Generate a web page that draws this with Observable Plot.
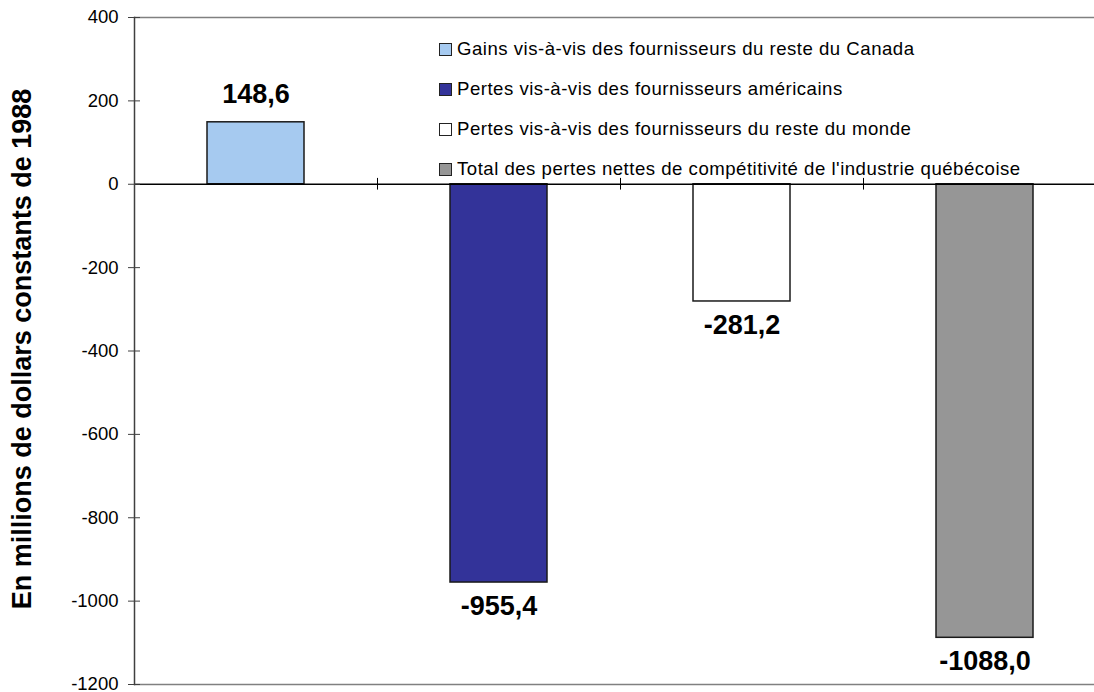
<!DOCTYPE html>
<html>
<head>
<meta charset="utf-8">
<script src="https://cdn.jsdelivr.net/npm/d3@7"></script>
<script src="https://cdn.jsdelivr.net/npm/@observablehq/plot@0.6"></script>
<style>
  html, body { margin: 0; padding: 0; background: #fff; overflow: hidden; }
  #wrap { position: relative; width: 1094px; height: 692px; font-family: "Liberation Sans", Arial, sans-serif; }
  #legend { position: absolute; left: 439px; top: 38px; font-size: 18.6px; letter-spacing: 0.5px; color: #000; }
  .row { display: flex; align-items: center; height: 22px; margin-bottom: 18px; white-space: nowrap; }
  .sw { width: 11px; height: 11px; border: 1px solid #222; margin-right: 5px; flex: none; }
</style>
</head>
<body>
<div id="wrap"></div>
<script>
const categories = [
  "Gains vis-à-vis des fournisseurs du reste du Canada",
  "Pertes vis-à-vis des fournisseurs américains",
  "Pertes vis-à-vis des fournisseurs du reste du monde",
  "Total des pertes nettes de compétitivité de l'industrie québécoise"
];
const values = [148.6, -955.4, -281.2, -1088.0];
const colors = ["#a6caf0", "#333399", "#ffffff", "#969696"];
const yTicks = [400, 200, 0, -200, -400, -600, -800, -1000, -1200];
const yLabel = "En millions de dollars constants de 1988";

const data = categories.map((c, i) => ({cat: c, value: values[i], color: colors[i]}));
const fmt = v => v.toFixed(1).replace(".", ",");

const W = 1094, H = 692;
const ml = 134, mt = 17, mb = 8;
const step = 243;

const chart = Plot.plot({
  width: W,
  height: H,
  marginLeft: ml,
  marginRight: 0,
  marginTop: mt,
  marginBottom: mb,
  style: {fontFamily: "'Liberation Sans', Arial, sans-serif", fontSize: "18.5px", color: "#000", background: "#fff", overflow: "visible"},
  x: {domain: categories, range: [ml, ml + step * categories.length], paddingInner: 0.6, paddingOuter: 0.3, axis: null},
  y: {domain: [-1200, 400], ticks: yTicks, label: null, axis: null},
  marks: [
    Plot.ruleY([400, -1200], {stroke: "#808080", strokeWidth: 1.5}),
    Plot.barY(data, {x: "cat", y: "value", fill: "color", stroke: "#1a1a1a", strokeWidth: 1.5}),
    Plot.ruleY([0], {stroke: "#000", strokeWidth: 1.3}),
    Plot.ruleX(categories.slice(1), {x: d => d, y1: -14, y2: 14, dx: -step / 2, stroke: "#000", strokeWidth: 1}),
    Plot.frame({anchor: "left", stroke: "#404040", strokeWidth: 1.5}),
    Plot.axisY({ticks: yTicks, tickSize: 12, dx: 6, tickFormat: () => "", label: null, stroke: "#404040"}),
    Plot.axisY({ticks: yTicks, tickSize: 0, tickPadding: 16, tickFormat: d => String(d), label: null, fontSize: 18.5, fill: "#000", style: {letterSpacing: "1px"}}),
    Plot.text([yLabel], {frameAnchor: "left", textAnchor: "middle", rotate: -90, dx: -112, dy: -2, fontSize: 27, fontWeight: "bold"}),
    Plot.text(data.filter(d => d.value >= 0), {x: "cat", y: "value", text: d => fmt(d.value), dy: -28, fontSize: 27, fontWeight: "bold", style: {letterSpacing: "1.5px"}}),
    Plot.text(data.filter(d => d.value < 0), {x: "cat", y: "value", text: d => fmt(d.value), dy: 24, fontSize: 27, fontWeight: "bold", style: {letterSpacing: "1.5px"}})
  ]
});

const wrap = document.getElementById("wrap");
wrap.appendChild(chart);

const legend = document.createElement("div");
legend.id = "legend";
categories.forEach((c, i) => {
  const row = document.createElement("div");
  row.className = "row";
  const sw = document.createElement("span");
  sw.className = "sw";
  sw.style.background = colors[i];
  const t = document.createElement("span");
  t.textContent = c;
  row.appendChild(sw);
  row.appendChild(t);
  legend.appendChild(row);
});
wrap.appendChild(legend);
</script>
</body>
</html>
